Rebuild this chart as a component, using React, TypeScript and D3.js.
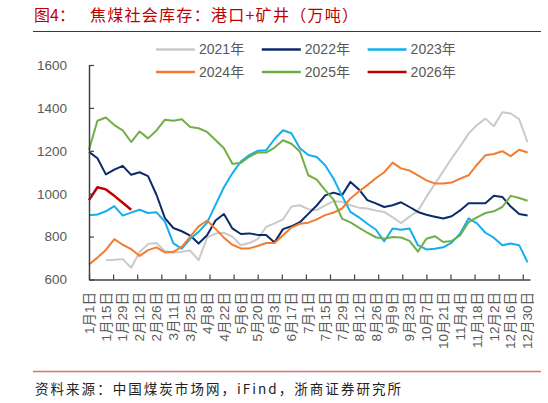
import React, { useRef, useEffect } from "react";
import * as d3 from "d3";

// weekly readings (万吨), week k = day 7k of the year
const years = ["2021年", "2022年", "2023年", "2024年", "2025年", "2026年"];
const colors = ["#CACACA", "#0C2A6A", "#12B0EE", "#F27D32", "#72AE48", "#C00000"];

const y2021 = [null, null, 690, 692, 695, 655, 728, 765, 770, 732, 725, 729, 735, 690, 795, 814, 818, 800, 760, 770, 788, 845, 862, 880, 940, 946, 928, 923, 946, 965, 962, 946, 935, 931, 922, 915, 890, 863, 893, 920, 985, 1045, 1105, 1165, 1220, 1280, 1320, 1350, 1315, 1380, 1374, 1348, 1240];
const y2022 = [1195, 1165, 1090, 1112, 1130, 1088, 1100, 1082, 995, 886, 840, 825, 805, 768, 806, 875, 905, 838, 812, 815, 808, 808, 773, 835, 848, 867, 906, 945, 992, 1005, 993, 1055, 1020, 970, 955, 938, 946, 960, 938, 915, 902, 893, 884, 895, 922, 955, 955, 955, 990, 985, 940, 905, 898];
const y2023 = [900, 903, 918, 942, 898, 912, 925, 910, 913, 870, 768, 744, 790, 822, 865, 948, 1030, 1095, 1150, 1180, 1200, 1202, 1255, 1296, 1282, 1212, 1180, 1171, 1133, 1070, 990, 915, 890, 860, 833, 778, 838, 832, 838, 760, 740, 743, 750, 772, 815, 885, 862, 818, 795, 760, 768, 760, 680];
const y2024 = [670, 702, 738, 788, 762, 742, 710, 737, 750, 726, 729, 752, 800, 848, 875, 836, 795, 762, 745, 745, 756, 770, 770, 806, 842, 860, 865, 880, 900, 912, 931, 978, 1010, 1040, 1072, 1100, 1145, 1118, 1108, 1085, 1062, 1048, 1048, 1052, 1070, 1086, 1135, 1179, 1185, 1198, 1175, 1205, 1192];
const y2025 = [1205, 1340, 1355, 1320, 1295, 1241, 1290, 1258, 1295, 1345, 1340, 1347, 1311, 1305, 1288, 1250, 1212, 1140, 1143, 1172, 1193, 1192, 1215, 1249, 1233, 1197, 1086, 1066, 1017, 972, 884, 866, 842, 818, 797, 790, 798, 796, 780, 730, 790, 802, 775, 780, 805, 868, 890, 910, 918, 938, 990, 980, 967];
const y2026 = [970, 1030, 1020, 990, 958, 925];

const yTicks = [600, 800, 1000, 1200, 1400, 1600];
const xLabels = ["1月1日", "1月15日", "1月29日", "2月12日", "2月26日", "3月11日", "3月25日", "4月8日", "4月22日", "5月6日", "5月20日", "6月3日", "6月17日", "7月1日", "7月15日", "7月29日", "8月12日", "8月26日", "9月9日", "9月23日", "10月7日", "10月21日", "11月4日", "11月18日", "12月2日", "12月16日", "12月30日"];

const series = [y2021, y2022, y2023, y2024, y2025, y2026];

const App: React.FC = () => {
  const svgRef = useRef<SVGSVGElement>(null);

  useEffect(() => {
    if (!svgRef.current) return;
    const svg = d3.select(svgRef.current);
    svg.selectAll("*").remove();

    const font = "'Liberation Sans', 'Noto Sans CJK SC', sans-serif";
    const x = d3.scaleLinear().domain([0, 366]).range([89, 530]);
    const y = d3.scaleLinear().domain([600, 1600]).range([279.5, 65]);

    // title
    const title = svg
      .append("g")
      .attr("fill", "#C00000")
      .style("font", "16px 'Noto Sans CJK SC', sans-serif");
    title.append("text").attr("x", 34).attr("y", 21).text("图4：");
    title
      .append("text")
      .attr("x", 90)
      .attr("y", 21)
      .attr("textLength", 268)
      .attr("lengthAdjust", "spacing")
      .text("焦煤社会库存：港口+矿井（万吨）");
    svg
      .append("line")
      .attr("x1", 33)
      .attr("x2", 541)
      .attr("y1", 31.5)
      .attr("y2", 31.5)
      .attr("stroke", "#C00000")
      .attr("stroke-width", 1);

    // lines
    const line = d3
      .line<number | null>()
      .defined((d) => d != null)
      .x((_, i) => x(i * 7))
      .y((d) => y(d as number));

    svg
      .append("g")
      .selectAll("path")
      .data(series)
      .join("path")
      .attr("fill", "none")
      .attr("stroke", (_, i) => colors[i])
      .attr("stroke-width", (_, i) => (i === 5 ? 2.5 : 2))
      .attr("stroke-linejoin", "round")
      .attr("d", (d) => line(d));

    // y axis
    const yAxis = svg
      .append("g")
      .attr("transform", `translate(${x(0)},0)`)
      .call(
        d3
          .axisLeft(y)
          .tickValues(yTicks)
          .tickSizeInner(-5)
          .tickSizeOuter(0)
          .tickPadding(22)
          .tickFormat(d3.format("d")),
      );
    yAxis.select(".domain").attr("stroke", "#404040").attr("stroke-width", 1.5);
    yAxis.selectAll(".tick line").attr("stroke", "#404040").attr("stroke-width", 1.2);
    yAxis
      .selectAll(".tick text")
      .attr("fill", "#595959")
      .style("font", `13.5px ${font}`);

    // x axis: ticks every 20 days, labels every 14 days
    const xAxis = svg
      .append("g")
      .attr("transform", `translate(0,${y(600)})`)
      .call(
        d3
          .axisBottom(x)
          .tickValues(d3.range(0, 361, 20))
          .tickSizeInner(-5)
          .tickSizeOuter(0)
          .tickFormat(() => ""),
      );
    xAxis.select(".domain").attr("stroke", "#404040").attr("stroke-width", 1.5);
    xAxis.selectAll(".tick line").attr("stroke", "#404040").attr("stroke-width", 1.2);

    svg
      .append("g")
      .selectAll("text")
      .data(xLabels)
      .join("text")
      .attr("transform", (_, i) => `translate(${x(i * 14)},292) rotate(-90)`)
      .attr("text-anchor", "end")
      .attr("dy", "0.35em")
      .attr("fill", "#595959")
      .style("font", `13.5px ${font}`)
      .text((d) => d);

    // legend
    const legend = svg
      .append("g")
      .selectAll("g")
      .data(years)
      .join("g")
      .attr(
        "transform",
        (_, i) => `translate(${156 + (i % 3) * 105.8},${i < 3 ? 49.5 : 72})`,
      );
    legend
      .append("line")
      .attr("x1", 0)
      .attr("x2", 39)
      .attr("stroke", (_, i) => colors[i])
      .attr("stroke-width", 2.5);
    legend
      .append("text")
      .attr("x", 43)
      .attr("dy", "0.35em")
      .attr("fill", "#595959")
      .style("font", `14px ${font}`)
      .text((d) => d);

    // source
    svg
      .append("line")
      .attr("x1", 33)
      .attr("x2", 541)
      .attr("y1", 371.5)
      .attr("y2", 371.5)
      .attr("stroke", "#E07070")
      .attr("stroke-width", 1.5);
    svg
      .append("text")
      .attr("x", 35)
      .attr("y", 394)
      .attr("fill", "#222")
      .attr("textLength", 366)
      .attr("lengthAdjust", "spacing")
      .style("font", "13.5px 'Noto Sans CJK SC', sans-serif")
      .text("资料来源：中国煤炭市场网，iFind，浙商证券研究所");
  }, []);

  return (
    <svg
      ref={svgRef}
      width={548}
      height={403}
      style={{ position: "absolute", left: 0, top: 0, background: "#fff" }}
    />
  );
};

export default App;
